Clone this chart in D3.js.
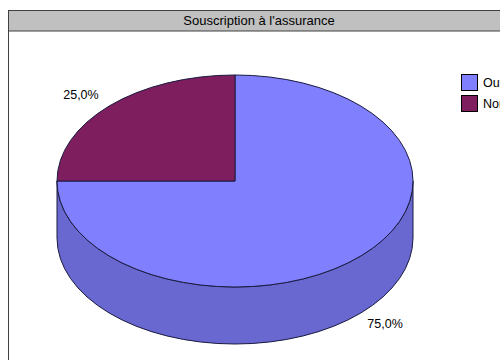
<!DOCTYPE html>
<html><head><meta charset="utf-8">
<script src="https://cdn.jsdelivr.net/npm/d3@7"></script>
<style>body{margin:0;background:#fff}svg{display:block}</style>
</head><body>
<svg id="c" width="500" height="360"></svg>
<script>
const title = "Souscription à l'assurance";
const categories = ["Oui", "Non"];
const values = [75, 25];
const labels = ["75,0%", "25,0%"];
const colors = ["#8080ff", "#7e1e5e"];
const sideColors = ["#6868d0", "#601048"];

const svg = d3.select("#c");
const font = "'Liberation Sans', Arial, sans-serif";

// frame
svg.append("rect").attr("x", 8.5).attr("y", 10.5).attr("width", 520).attr("height", 400)
  .attr("fill", "#fff").attr("stroke", "#404040");
svg.append("rect").attr("x", 8.5).attr("y", 10.5).attr("width", 520).attr("height", 20.5)
  .attr("fill", "#c0c0c0").attr("stroke", "#404040");
svg.append("text").attr("x", 259).attr("y", 25).attr("text-anchor", "middle")
  .attr("font-family", font).attr("font-size", 13).attr("fill", "#000").text(title);

const cx = 235, cy = 181, rx = 178, ry = 106, depth = 57;
const pie = d3.pie().sort(null).startAngle(0).endAngle(2 * Math.PI);
const arcs = pie(values);

// side (front half only, between PI/2 and 3PI/2)
const px = a => cx + rx * Math.sin(a), py = a => cy - ry * Math.cos(a);
arcs.forEach((d, i) => {
  const a0 = Math.max(d.startAngle, Math.PI / 2), a1 = Math.min(d.endAngle, 3 * Math.PI / 2);
  if (a1 <= a0) return;
  const path = `M${px(a0)},${py(a0)} A${rx},${ry} 0 0 1 ${px(a1)},${py(a1)} L${px(a1)},${py(a1) + depth} A${rx},${ry} 0 0 0 ${px(a0)},${py(a0) + depth} Z`;
  svg.append("path").attr("d", path).attr("fill", sideColors[i]).attr("stroke", "#1a1a40").attr("stroke-width", 1);
});

// top
const arc = d3.arc().innerRadius(0).outerRadius(rx);
const topG = svg.append("g").attr("transform", `translate(${cx},${cy}) scale(1,${ry / rx})`);
topG.selectAll("path").data(arcs).join("path")
  .attr("d", arc).attr("fill", (d, i) => colors[i])
  .attr("stroke", "#1a1a40").attr("stroke-width", 1).attr("vector-effect", "non-scaling-stroke");

// labels
arcs.forEach((d, i) => {
  const m = (d.startAngle + d.endAngle) / 2;
  const k = 1.2;
  let x = cx + rx * k * Math.sin(m), y = cy - ry * k * Math.cos(m);
  if (Math.cos(m) < 0) { y += depth - 5; x -= 1; } else { y += 3; x -= 3; }
  svg.append("text").attr("x", x).attr("y", y + 5).attr("text-anchor", "middle")
    .attr("font-family", font).attr("font-size", 12.5).attr("fill", "#000").text(labels[i]);
});

// legend
const lg = svg.append("g");
categories.forEach((c, i) => {
  lg.append("rect").attr("x", 461.5).attr("y", 74.5 + i * 21).attr("width", 16).attr("height", 16)
    .attr("fill", colors[i]).attr("stroke", "#000");
  lg.append("text").attr("x", 483).attr("y", 87 + i * 21).attr("font-family", font)
    .attr("font-size", 12.5).attr("fill", "#000").text(c);
});
</script>
</body></html>
